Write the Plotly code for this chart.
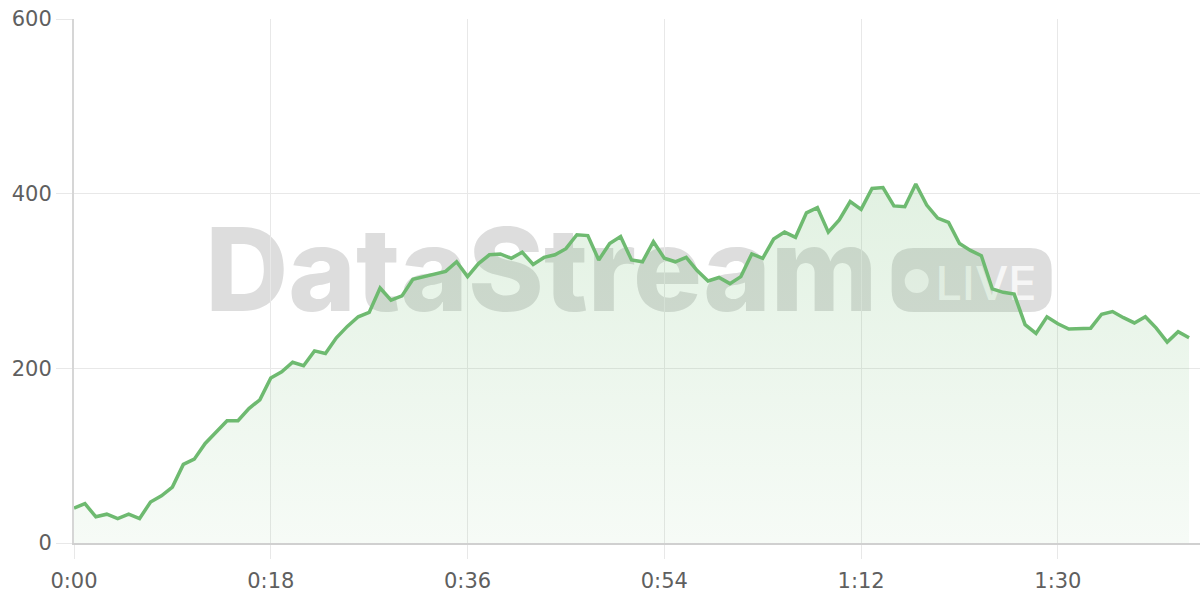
import plotly.graph_objects as go

# ---- data ----
seconds = list(range(103))
values = [
    40, 45, 30, 33, 28, 33, 28, 47, 54, 64,
    90, 96, 114, 127, 140, 140, 154, 164, 189, 196,
    207, 203, 220, 217, 235, 248, 259, 264, 292, 278,
    283, 302, 305, 308, 311, 322, 305, 320, 330, 331,
    326, 333, 319, 327, 330, 337, 353, 352, 324, 343,
    351, 324, 322, 345, 326, 322, 327, 312, 300, 304,
    297, 305, 331, 326, 348, 356, 350, 378, 384, 356,
    370, 391, 382, 406, 407, 386, 385, 411, 387, 372,
    367, 343, 335, 329, 291, 287, 285, 250, 240, 259,
    251, 245, 245, 246, 262, 265, 258, 252, 259, 246,
    230, 242, 235,
]
x_tickvals = [0, 18, 36, 54, 72, 90]
x_ticktext = ["0:00", "0:18", "0:36", "0:54", "1:12", "1:30"]
y_tickvals = [0, 200, 400, 600]
y_ticktext = ["0", "200", "400", "600"]

LINE = "rgb(110,186,112)"
GRID = "#e8e8e8"
FONT = "Inter"
TICKFONT = "DejaVu Sans"

fig = go.Figure()
fig.add_trace(go.Scatter(
    x=seconds, y=values, mode="lines",
    line=dict(color=LINE, width=3.5),
    fill="tozeroy",
    fillgradient=dict(
        type="vertical",
        colorscale=[[0, "rgba(108,186,110,0.06)"], [1, "rgba(108,186,110,0.20)"]],
    ),
    hoverinfo="skip",
))

WM = "rgba(128,128,128,0.27)"
shapes = [
    # DataStream watermark text
    dict(type="rect", xref="paper", yref="paper", x0=0.10, x1=0.73, y0=0.41, y1=0.65,
         line=dict(width=0), fillcolor="rgba(0,0,0,0)", layer="below",
         label=dict(text="DataStream", textposition="middle center",
                    font=dict(family=FONT, size=115, color=WM, weight=800))),
    # LIVE pill
    dict(type="path", xref="paper", yref="paper", xsizemode="pixel", ysizemode="pixel",
         xanchor=0.7972, yanchor=0.5021,
         path="M -58 -32 L 58 -32 Q 80 -32 80 -10 L 80 10 Q 80 32 58 32 L -58 32 Q -80 32 -80 10 L -80 -10 Q -80 -32 -58 -32 Z",
         line=dict(width=0), fillcolor=WM, layer="below"),
    dict(type="circle", xref="paper", yref="paper", xsizemode="pixel", ysizemode="pixel",
         xanchor=0.7484, yanchor=0.50, x0=-12, x1=12, y0=-12, y1=12,
         line=dict(width=0), fillcolor="rgba(255,255,255,0.75)", layer="below"),
    dict(type="rect", xref="paper", yref="paper", x0=0.765, x1=0.855, y0=0.44, y1=0.56,
         line=dict(width=0), fillcolor="rgba(0,0,0,0)", layer="below",
         label=dict(text="LIVE", textposition="middle center",
                    font=dict(family=FONT, size=47, color="rgba(255,255,255,0.75)", weight=500))),
]

fig.update_layout(
    width=1200, height=600,
    margin=dict(l=74, r=0, t=19, b=57),
    paper_bgcolor="white", plot_bgcolor="white",
    showlegend=False,
    shapes=shapes,
    font=dict(family=TICKFONT, size=21, color="#5f5f5f"),
    xaxis=dict(
        range=[0, 103], tickmode="array", tickvals=x_tickvals, ticktext=x_ticktext,
        showgrid=True, gridcolor=GRID, gridwidth=1,
        showline=True, linecolor="#d0d0d0", linewidth=2,
        ticks="outside", ticklen=14, tickcolor=GRID, tickwidth=1,
        ticklabelstandoff=4,
        zeroline=False, tickfont=dict(family=TICKFONT, size=21, color="#5f5f5f"),
        fixedrange=True,
    ),
    yaxis=dict(
        range=[0, 600], tickmode="array", tickvals=y_tickvals, ticktext=y_ticktext,
        showgrid=True, gridcolor=GRID, gridwidth=1,
        showline=True, linecolor="#d6d6d6", linewidth=2,
        ticks="outside", ticklen=16, tickcolor=GRID, tickwidth=1,
        zeroline=False, tickfont=dict(family=TICKFONT, size=21, color="#5f5f5f"),
        fixedrange=True,
    ),
)

fig.write_html(
    "out.html",
    config=dict(displayModeBar=False),
    post_script="document.body.style.margin='0';document.body.style.padding='0';",
)
